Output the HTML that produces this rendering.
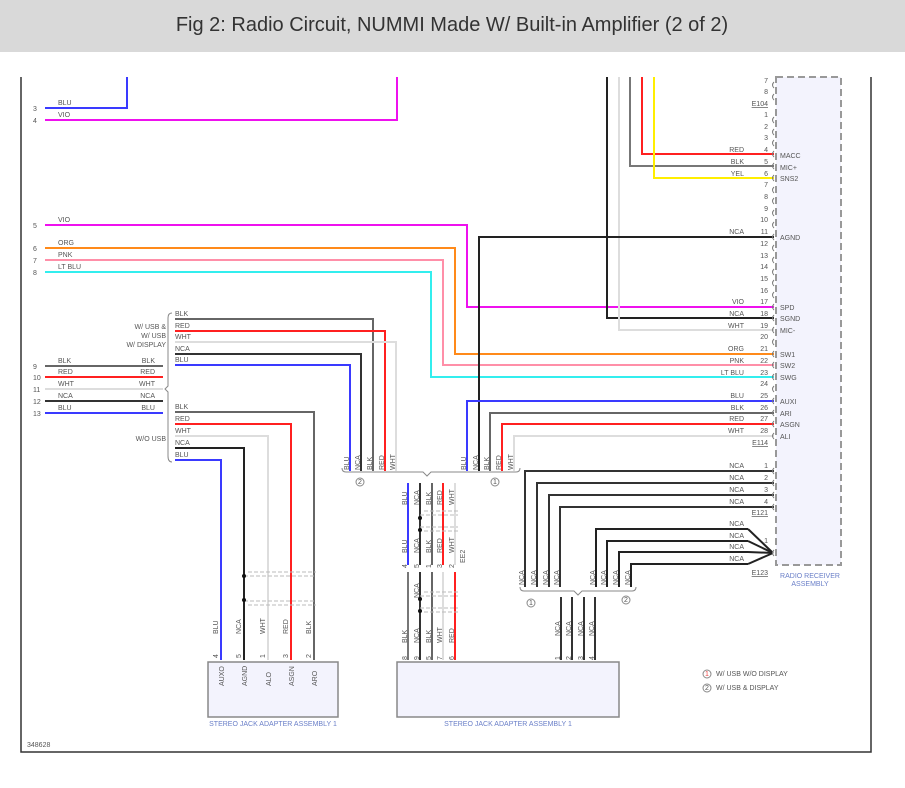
<!DOCTYPE html>
<html><head><meta charset="utf-8"><style>
html,body{margin:0;padding:0;background:#fff;width:905px;height:788px;overflow:hidden}
svg text{font-family:"Liberation Sans",sans-serif;font-size:7px;fill:#555}
</style></head><body>
<svg width="905" height="788" viewBox="0 0 905 788" xmlns="http://www.w3.org/2000/svg">
<rect x="0" y="0" width="905" height="52" fill="#d9d9d9"/>
<text x="452" y="31" text-anchor="middle" style="font-size:20px;fill:#333">Fig 2: Radio Circuit, NUMMI Made W/ Built-in Amplifier (2 of 2)</text>
<path d="M21 77 V752 H871 V77" fill="none" stroke="#333" stroke-width="1.5"/>
<rect x="776" y="77" width="65" height="488" fill="#f3f3fd" stroke="#999" stroke-width="2" stroke-dasharray="7,4"/>
<text x="810" y="578" text-anchor="middle" style="fill:#6a7fc8">RADIO RECEIVER</text>
<text x="810" y="586" text-anchor="middle" style="fill:#6a7fc8">ASSEMBLY</text>

<g fill="none" stroke-width="2">
<path d="M45 108 H127 V77" stroke="#3a3aff"/>
<path d="M45 120 H397 V77" stroke="#ee11ee"/>
<path d="M45 225 H467 V307 H774" stroke="#ee11ee"/>
<path d="M45 248 H455 V354 H774" stroke="#ff8a1a"/>
<path d="M45 260 H443 V365 H774" stroke="#ff8fa8"/>
<path d="M45 272 H431 V377 H774" stroke="#33eeee"/>
<path d="M607 77 V318 H774" stroke="#222"/>
<path d="M619 77 V330 H774" stroke="#ddd"/>
<path d="M630 77 V166 H774" stroke="#777"/>
<path d="M642 77 V154 H774" stroke="#ff2020"/>
<path d="M654 77 V178 H774" stroke="#ffee00"/>
<path d="M774 237 H479 V471" stroke="#222"/>
<path d="M774 401 H467 V471" stroke="#3a3aff"/>
<path d="M774 413 H490 V471" stroke="#666"/>
<path d="M774 424 H502 V471" stroke="#ff2020"/>
<path d="M774 436 H514 V471" stroke="#ddd"/>
<path d="M45 366 H163" stroke="#666"/>
<path d="M45 377 H163" stroke="#ff2020"/>
<path d="M45 389 H163" stroke="#ddd"/>
<path d="M45 401 H163" stroke="#333"/>
<path d="M45 413 H163" stroke="#3a3aff"/>
<path d="M175 319 H373 V471" stroke="#666"/>
<path d="M175 331 H385 V471" stroke="#ff2020"/>
<path d="M175 342 H396 V471" stroke="#ddd"/>
<path d="M175 354 H361 V471" stroke="#333"/>
<path d="M175 365 H350 V471" stroke="#3a3aff"/>
<path d="M175 412 H314 V660" stroke="#666"/>
<path d="M175 424 H291 V660" stroke="#ff2020"/>
<path d="M175 436 H268 V660" stroke="#ddd"/>
<path d="M175 448 H244 V660" stroke="#222"/>
<path d="M175 460 H221 V660" stroke="#3a3aff"/>
<path d="M408 483 V565" stroke="#3a3aff"/>
<path d="M420 483 V565" stroke="#333"/>
<path d="M432 483 V565" stroke="#666"/>
<path d="M443 483 V565" stroke="#ff2020"/>
<path d="M455 483 V565" stroke="#ddd"/>
<path d="M408 572 V660" stroke="#777"/>
<path d="M420 572 V660" stroke="#333"/>
<path d="M432 572 V660" stroke="#666"/>
<path d="M443 572 V660" stroke="#ddd"/>
<path d="M455 572 V660" stroke="#ff2020"/>
<path d="M774 471 H525 V587" stroke="#333"/>
<path d="M774 483 H537 V587" stroke="#333"/>
<path d="M774 495 H549 V587" stroke="#333"/>
<path d="M774 507 H560 V587" stroke="#333"/>
<path d="M748 529 H596 V587 M748 529 L773 553" stroke="#222"/>
<path d="M748 541 H607 V587 M748 541 L773 553" stroke="#222"/>
<path d="M748 552 H619 V587 M748 552 L773 553" stroke="#222"/>
<path d="M748 564 H631 V587 M748 564 L773 553" stroke="#222"/>
<path d="M561 597 V660 M572 597 V660 M584 597 V660 M595 597 V660" stroke="#333"/>
</g>

<g fill="none" stroke="#888" stroke-width="1">
<path d="M172 313 Q168 313 168 318 V386 L165 389 L168 392 V456 Q168 462 172 462"/>
<path d="M342 468 Q342 472 346 472 H423 L427 476 L431 472 H516 Q520 472 520 468"/>
<path d="M520 587 Q520 591 524 591 H574 L578 595 L582 591 H632 Q636 591 636 587"/>
<circle cx="360" cy="482" r="4"/><circle cx="495" cy="482" r="4"/>
<circle cx="531" cy="603" r="4"/><circle cx="626" cy="600" r="4"/>
<circle cx="707" cy="674" r="4"/><circle cx="707" cy="688" r="4"/>
<g stroke="#bbb" stroke-dasharray="4,2">
<path d="M420 515 H458 M420 527 H458 M424 511 H458 M424 531 H458"/>
<path d="M420 596 H458 M420 608 H458 M424 592 H458 M424 612 H458"/>
<path d="M244 576 H316 M244 601 H316 M248 572 H316 M248 605 H316"/>
</g>
</g>
<g fill="#111">
<circle cx="420" cy="518" r="2"/><circle cx="420" cy="530" r="2"/>
<circle cx="420" cy="599" r="2"/><circle cx="420" cy="611" r="2"/>
<circle cx="244" cy="576" r="2"/><circle cx="244" cy="600" r="2"/>
</g>
<g style="font-size:6px">
<text x="358" y="484">2</text><text x="493" y="484">1</text><text x="529" y="605">1</text><text x="624" y="602">2</text>
<text x="705" y="676" style="fill:#e44">1</text><text x="705" y="690">2</text>
</g>
<text x="716" y="676">W/ USB W/O DISPLAY</text>
<text x="716" y="690">W/ USB &amp; DISPLAY</text>

<rect x="208" y="662" width="130" height="55" fill="#f3f3fd" stroke="#888" stroke-width="1.5"/>
<rect x="397" y="662" width="222" height="55" fill="#f3f3fd" stroke="#888" stroke-width="1.5"/>
<text x="273" y="726" text-anchor="middle" style="fill:#6a7fc8">STEREO JACK ADAPTER ASSEMBLY 1</text>
<text x="508" y="726" text-anchor="middle" style="fill:#6a7fc8">STEREO JACK ADAPTER ASSEMBLY 1</text>
<text x="27" y="747">348628</text>

<text x="33" y="111">3</text><text x="58" y="105">BLU</text>
<text x="33" y="123">4</text><text x="58" y="117">VIO</text>
<text x="33" y="228">5</text><text x="58" y="222">VIO</text>
<text x="33" y="251">6</text><text x="58" y="245">ORG</text>
<text x="33" y="263">7</text><text x="58" y="257">PNK</text>
<text x="33" y="275">8</text><text x="58" y="269">LT BLU</text>
<text x="33" y="369">9</text><text x="58" y="363">BLK</text><text x="155" y="363" text-anchor="end">BLK</text>
<text x="33" y="380">10</text><text x="58" y="374">RED</text><text x="155" y="374" text-anchor="end">RED</text>
<text x="33" y="392">11</text><text x="58" y="386">WHT</text><text x="155" y="386" text-anchor="end">WHT</text>
<text x="33" y="404">12</text><text x="58" y="398">NCA</text><text x="155" y="398" text-anchor="end">NCA</text>
<text x="33" y="416">13</text><text x="58" y="410">BLU</text><text x="155" y="410" text-anchor="end">BLU</text>
<text x="175" y="316">BLK</text><text x="175" y="328">RED</text><text x="175" y="339">WHT</text><text x="175" y="351">NCA</text><text x="175" y="362">BLU</text>
<text x="175" y="409">BLK</text><text x="175" y="421">RED</text><text x="175" y="433">WHT</text><text x="175" y="445">NCA</text><text x="175" y="457">BLU</text>
<text x="166" y="329" text-anchor="end">W/ USB &amp;</text>
<text x="166" y="338" text-anchor="end">W/ USB</text>
<text x="166" y="347" text-anchor="end">W/ DISPLAY</text>
<text x="166" y="441" text-anchor="end">W/O USB</text>

<g text-anchor="end">
<text x="768" y="83">7</text><text x="768" y="94">8</text>
<text x="768" y="117">1</text><text x="768" y="129">2</text><text x="768" y="140">3</text>
<text x="768" y="152">4</text><text x="744" y="152">RED</text>
<text x="768" y="164">5</text><text x="744" y="164">BLK</text>
<text x="768" y="176">6</text><text x="744" y="176">YEL</text>
<text x="768" y="187">7</text><text x="768" y="199">8</text><text x="768" y="211">9</text><text x="768" y="222">10</text>
<text x="768" y="234">11</text><text x="744" y="234">NCA</text>
<text x="768" y="246">12</text><text x="768" y="258">13</text><text x="768" y="269">14</text><text x="768" y="281">15</text><text x="768" y="293">16</text>
<text x="768" y="304">17</text><text x="744" y="304">VIO</text>
<text x="768" y="316">18</text><text x="744" y="316">NCA</text>
<text x="768" y="328">19</text><text x="744" y="328">WHT</text>
<text x="768" y="339">20</text>
<text x="768" y="351">21</text><text x="744" y="351">ORG</text>
<text x="768" y="363">22</text><text x="744" y="363">PNK</text>
<text x="768" y="375">23</text><text x="744" y="375">LT BLU</text>
<text x="768" y="386">24</text>
<text x="768" y="398">25</text><text x="744" y="398">BLU</text>
<text x="768" y="410">26</text><text x="744" y="410">BLK</text>
<text x="768" y="421">27</text><text x="744" y="421">RED</text>
<text x="768" y="433">28</text><text x="744" y="433">WHT</text>
<text x="768" y="468">1</text><text x="744" y="468">NCA</text>
<text x="768" y="480">2</text><text x="744" y="480">NCA</text>
<text x="768" y="492">3</text><text x="744" y="492">NCA</text>
<text x="768" y="504">4</text><text x="744" y="504">NCA</text>
<text x="744" y="526">NCA</text><text x="744" y="538">NCA</text><text x="744" y="549">NCA</text><text x="744" y="561">NCA</text>
<text x="768" y="543">1</text>
<text x="768" y="106" style="text-decoration:underline">E104</text>
<text x="768" y="445" style="text-decoration:underline">E114</text>
<text x="768" y="515" style="text-decoration:underline">E121</text>
<text x="768" y="575" style="text-decoration:underline">E123</text>
</g>
<g>
<text x="780" y="158">MACC</text><text x="780" y="170">MIC+</text><text x="780" y="181">SNS2</text>
<text x="780" y="240">AGND</text><text x="780" y="310">SPD</text><text x="780" y="321">SGND</text><text x="780" y="333">MIC-</text>
<text x="780" y="357">SW1</text><text x="780" y="368">SW2</text><text x="780" y="380">SWG</text>
<text x="780" y="404">AUXI</text><text x="780" y="416">ARI</text><text x="780" y="427">ASGN</text><text x="780" y="439">ALI</text>
</g>
<g fill="none" stroke="#777" stroke-width="1">
<path d="M774 82 q-3 3 0 6 M774 94 q-3 3 0 6 M774 117 q-3 3 0 6 M774 129 q-3 3 0 6 M774 140 q-3 3 0 6 M774 151 q-3 3 0 6 M774 163 q-3 3 0 6 M774 175 q-3 3 0 6 M774 187 q-3 3 0 6 M774 198 q-3 3 0 6 M774 210 q-3 3 0 6 M774 222 q-3 3 0 6 M774 234 q-3 3 0 6 M774 245 q-3 3 0 6 M774 257 q-3 3 0 6 M774 269 q-3 3 0 6 M774 280 q-3 3 0 6 M774 292 q-3 3 0 6 M774 304 q-3 3 0 6 M774 315 q-3 3 0 6 M774 327 q-3 3 0 6 M774 339 q-3 3 0 6 M774 351 q-3 3 0 6 M774 362 q-3 3 0 6 M774 374 q-3 3 0 6 M774 386 q-3 3 0 6 M774 398 q-3 3 0 6 M774 410 q-3 3 0 6 M774 421 q-3 3 0 6 M774 433 q-3 3 0 6 M774 468 q-3 3 0 6 M774 480 q-3 3 0 6 M774 492 q-3 3 0 6 M774 504 q-3 3 0 6 M774 550 q-3 3 0 6"/>
</g>

<g style="font-size:7px">
<text transform="translate(349,470) rotate(-90)">BLU</text>
<text transform="translate(360,470) rotate(-90)">NCA</text>
<text transform="translate(372,470) rotate(-90)">BLK</text>
<text transform="translate(384,470) rotate(-90)">RED</text>
<text transform="translate(395,470) rotate(-90)">WHT</text>
<text transform="translate(466,470) rotate(-90)">BLU</text>
<text transform="translate(478,470) rotate(-90)">NCA</text>
<text transform="translate(489,470) rotate(-90)">BLK</text>
<text transform="translate(501,470) rotate(-90)">RED</text>
<text transform="translate(513,470) rotate(-90)">WHT</text>
<text transform="translate(407,505) rotate(-90)">BLU</text>
<text transform="translate(419,505) rotate(-90)">NCA</text>
<text transform="translate(431,505) rotate(-90)">BLK</text>
<text transform="translate(442,505) rotate(-90)">RED</text>
<text transform="translate(454,505) rotate(-90)">WHT</text>
<text transform="translate(407,553) rotate(-90)">BLU</text>
<text transform="translate(419,553) rotate(-90)">NCA</text>
<text transform="translate(431,553) rotate(-90)">BLK</text>
<text transform="translate(442,553) rotate(-90)">RED</text>
<text transform="translate(454,553) rotate(-90)">WHT</text>
<text transform="translate(465,563) rotate(-90)">EE2</text>
<text transform="translate(407,568) rotate(-90)">4</text>
<text transform="translate(419,568) rotate(-90)">5</text>
<text transform="translate(431,568) rotate(-90)">1</text>
<text transform="translate(442,568) rotate(-90)">3</text>
<text transform="translate(454,568) rotate(-90)">2</text>
<text transform="translate(419,598) rotate(-90)">NCA</text>
<text transform="translate(407,643) rotate(-90)">BLK</text>
<text transform="translate(419,643) rotate(-90)">NCA</text>
<text transform="translate(431,643) rotate(-90)">BLK</text>
<text transform="translate(442,643) rotate(-90)">WHT</text>
<text transform="translate(454,643) rotate(-90)">RED</text>
<text transform="translate(407,660) rotate(-90)">8</text>
<text transform="translate(419,660) rotate(-90)">9</text>
<text transform="translate(431,660) rotate(-90)">5</text>
<text transform="translate(442,660) rotate(-90)">7</text>
<text transform="translate(454,660) rotate(-90)">6</text>
<text transform="translate(218,634) rotate(-90)">BLU</text>
<text transform="translate(241,634) rotate(-90)">NCA</text>
<text transform="translate(265,634) rotate(-90)">WHT</text>
<text transform="translate(288,634) rotate(-90)">RED</text>
<text transform="translate(311,634) rotate(-90)">BLK</text>
<text transform="translate(218,658) rotate(-90)">4</text>
<text transform="translate(241,658) rotate(-90)">5</text>
<text transform="translate(265,658) rotate(-90)">1</text>
<text transform="translate(288,658) rotate(-90)">3</text>
<text transform="translate(311,658) rotate(-90)">2</text>
<text transform="translate(224,686) rotate(-90)">AUXO</text>
<text transform="translate(247,686) rotate(-90)">AGND</text>
<text transform="translate(271,686) rotate(-90)">ALO</text>
<text transform="translate(294,686) rotate(-90)">ASGN</text>
<text transform="translate(317,686) rotate(-90)">ARO</text>
<text transform="translate(524,585) rotate(-90)">NCA</text>
<text transform="translate(536,585) rotate(-90)">NCA</text>
<text transform="translate(548,585) rotate(-90)">NCA</text>
<text transform="translate(559,585) rotate(-90)">NCA</text>
<text transform="translate(595,585) rotate(-90)">NCA</text>
<text transform="translate(606,585) rotate(-90)">NCA</text>
<text transform="translate(618,585) rotate(-90)">NCA</text>
<text transform="translate(630,585) rotate(-90)">NCA</text>
<text transform="translate(560,636) rotate(-90)">NCA</text>
<text transform="translate(571,636) rotate(-90)">NCA</text>
<text transform="translate(583,636) rotate(-90)">NCA</text>
<text transform="translate(594,636) rotate(-90)">NCA</text>
<text transform="translate(560,660) rotate(-90)">1</text>
<text transform="translate(571,660) rotate(-90)">2</text>
<text transform="translate(583,660) rotate(-90)">3</text>
<text transform="translate(594,660) rotate(-90)">4</text>
</g>
</svg>
</body></html>
